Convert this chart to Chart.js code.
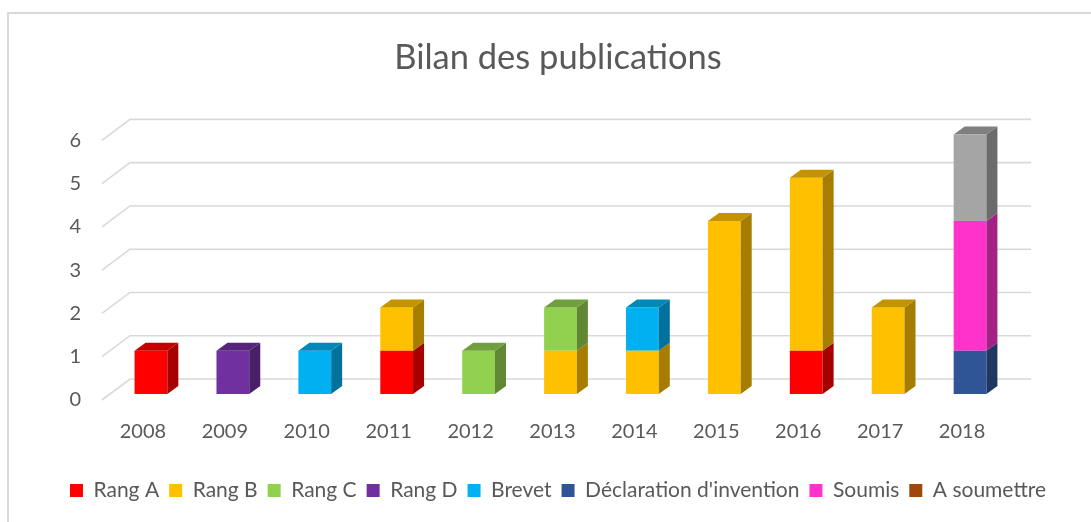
<!DOCTYPE html>
<html lang="fr">
<head>
<meta charset="utf-8">
<title>Bilan des publications</title>
<script src="https://cdn.jsdelivr.net/npm/chart.js@4"></script>
<style>
  html, body { margin: 0; padding: 0; background: #fff; overflow: hidden; }
  #wrap { position: relative; width: 1091px; height: 522px; }
  #frame { position: absolute; left: 7px; top: 12px; width: 2000px; height: 2000px;
           border: 2px solid #d9d9d9; box-sizing: border-box; }
  #wrap canvas { position: absolute; left: 0; top: 0; }
</style>
</head>
<body>
<div id="wrap">
  <div id="frame"></div>
  <canvas id="bilan" width="1091" height="522"></canvas>
</div>
<script>
// publications par année et par catégorie
var years = ['2008', '2009', '2010', '2011', '2012', '2013', '2014', '2015', '2016', '2017', '2018'];
var rangA       = [1, 0, 0, 1, 0, 0, 0, 0, 1, 0, 0];
var rangB       = [0, 0, 0, 1, 0, 1, 1, 4, 4, 2, 0];
var rangC       = [0, 0, 0, 0, 1, 1, 0, 0, 0, 0, 0];
var rangD       = [0, 1, 0, 0, 0, 0, 0, 0, 0, 0, 0];
var brevet      = [0, 0, 1, 0, 0, 0, 1, 0, 0, 0, 0];
var declaration = [0, 0, 0, 0, 0, 0, 0, 0, 0, 0, 1];
var soumis      = [0, 0, 0, 0, 0, 0, 0, 0, 0, 0, 3];
var aSoumettre  = [0, 0, 0, 0, 0, 0, 0, 0, 0, 0, 0];
var autres      = [0, 0, 0, 0, 0, 0, 0, 0, 0, 0, 2];
var yTicks = [0, 1, 2, 3, 4, 5, 6];

// fake 3D: bar depth, back wall offset and front edge of the floor
var DX = 11, DY = 8;
var WX = 20, WY = 15;
var FX = -8, FY = 6;

function shade(hex, k) {
    var n = parseInt(hex.slice(1), 16);
    var r = Math.round(((n >> 16) & 255) * k);
    var g = Math.round(((n >> 8) & 255) * k);
    var b = Math.round((n & 255) * k);
    return 'rgb(' + r + ',' + g + ',' + b + ')';
}

var depth3d = {
    id: 'depth3d',
    beforeDatasetsDraw: function (chart) {
        var ctx = chart.ctx, a = chart.chartArea, y = chart.scales.y;
        ctx.save();
        ctx.strokeStyle = '#d9d9d9';
        ctx.lineWidth = 1.6;
        yTicks.forEach(function (v) {
            var py = y.getPixelForValue(v);
            ctx.beginPath();
            ctx.moveTo(a.left + FX, py + FY);
            ctx.lineTo(a.left + WX, py - WY);
            ctx.lineTo(a.right + WX, py - WY);
            ctx.stroke();
        });
        ctx.restore();
    },
    afterDatasetsDraw: function (chart) {
        var ctx = chart.ctx;
        var sets = chart.data.datasets;
        ctx.save();
        for (var i = 0; i < years.length; i++) {
            var top = null, topColor = null;
            for (var d = 0; d < sets.length; d++) {
                var meta = chart.getDatasetMeta(d);
                if (meta.hidden || !sets[d].data[i]) continue;
                var el = meta.data[i];
                var right = el.x + el.width / 2;
                // side face
                ctx.fillStyle = shade(sets[d].backgroundColor, 0.65);
                ctx.beginPath();
                ctx.moveTo(right, el.y);
                ctx.lineTo(right + DX, el.y - DY);
                ctx.lineTo(right + DX, el.base - DY);
                ctx.lineTo(right, el.base);
                ctx.closePath();
                ctx.fill();
                top = el;
                topColor = sets[d].backgroundColor;
            }
            if (top) {
                var l = top.x - top.width / 2, r = top.x + top.width / 2;
                ctx.fillStyle = shade(topColor, 0.77);
                ctx.beginPath();
                ctx.moveTo(l, top.y);
                ctx.lineTo(l + DX, top.y - DY);
                ctx.lineTo(r + DX, top.y - DY);
                ctx.lineTo(r, top.y);
                ctx.closePath();
                ctx.fill();
            }
        }
        ctx.restore();
    }
};

Chart.defaults.font.family = 'Lato, "Liberation Sans", sans-serif';
Chart.defaults.color = '#595959';

function serie(label, data, color) {
    return { label: label, data: data, backgroundColor: color, borderWidth: 0 };
}

var chart = new Chart(document.getElementById('bilan'), {
    type: 'bar',
    data: {
        labels: years,
        datasets: [
            serie('Rang A', rangA, '#ff0000'),
            serie('Rang B', rangB, '#ffc000'),
            serie('Rang C', rangC, '#92d050'),
            serie('Rang D', rangD, '#7030a0'),
            serie('Brevet', brevet, '#00b0f0'),
            serie("Déclaration d'invention", declaration, '#2f5597'),
            serie('Soumis', soumis, '#ff33cc'),
            serie('A soumettre', aSoumettre, '#9e480e'),
            serie('', autres, '#a5a5a5')
        ]
    },
    options: {
        responsive: false,
        animation: false,
        layout: { padding: { left: 25, right: 0, top: 0, bottom: 11 } },
        datasets: { bar: { categoryPercentage: 1, barPercentage: 0.4 } },
        scales: {
            x: {
                stacked: true,
                grid: { display: false, drawTicks: false },
                border: { display: false },
                ticks: { padding: 26, labelOffset: -8, font: { size: 20 } },
                afterFit: function (s) { s.height = 76; }
            },
            y: {
                stacked: true,
                min: 0,
                max: 6,
                grid: { display: false, drawTicks: false },
                border: { display: false },
                ticks: { padding: 29, labelOffset: 6, font: { size: 20 } },
                afterBuildTicks: function (s) {
                    s.ticks = yTicks.map(function (v) { return { value: v }; });
                },
                afterFit: function (s) { s.width = 85; }
            },
            // empty right-hand axis, keeps room for the back wall
            marge: {
                type: 'linear',
                position: 'right',
                grid: { display: false, drawTicks: false },
                border: { display: false },
                ticks: { display: false },
                afterFit: function (s) { s.width = 80; }
            }
        },
        plugins: {
            title: {
                display: true,
                text: 'Bilan des publications',
                font: { size: 34.5, weight: 'normal' },
                padding: { top: 37, bottom: 56 }
            },
            legend: {
                position: 'bottom',
                labels: {
                    boxWidth: 13,
                    boxHeight: 13,
                    padding: 10,
                    font: { size: 21 },
                    filter: function (item) { return item.text !== ''; }
                }
            },
            tooltip: { enabled: false }
        }
    },
    plugins: [depth3d]
});
</script>
</body>
</html>
